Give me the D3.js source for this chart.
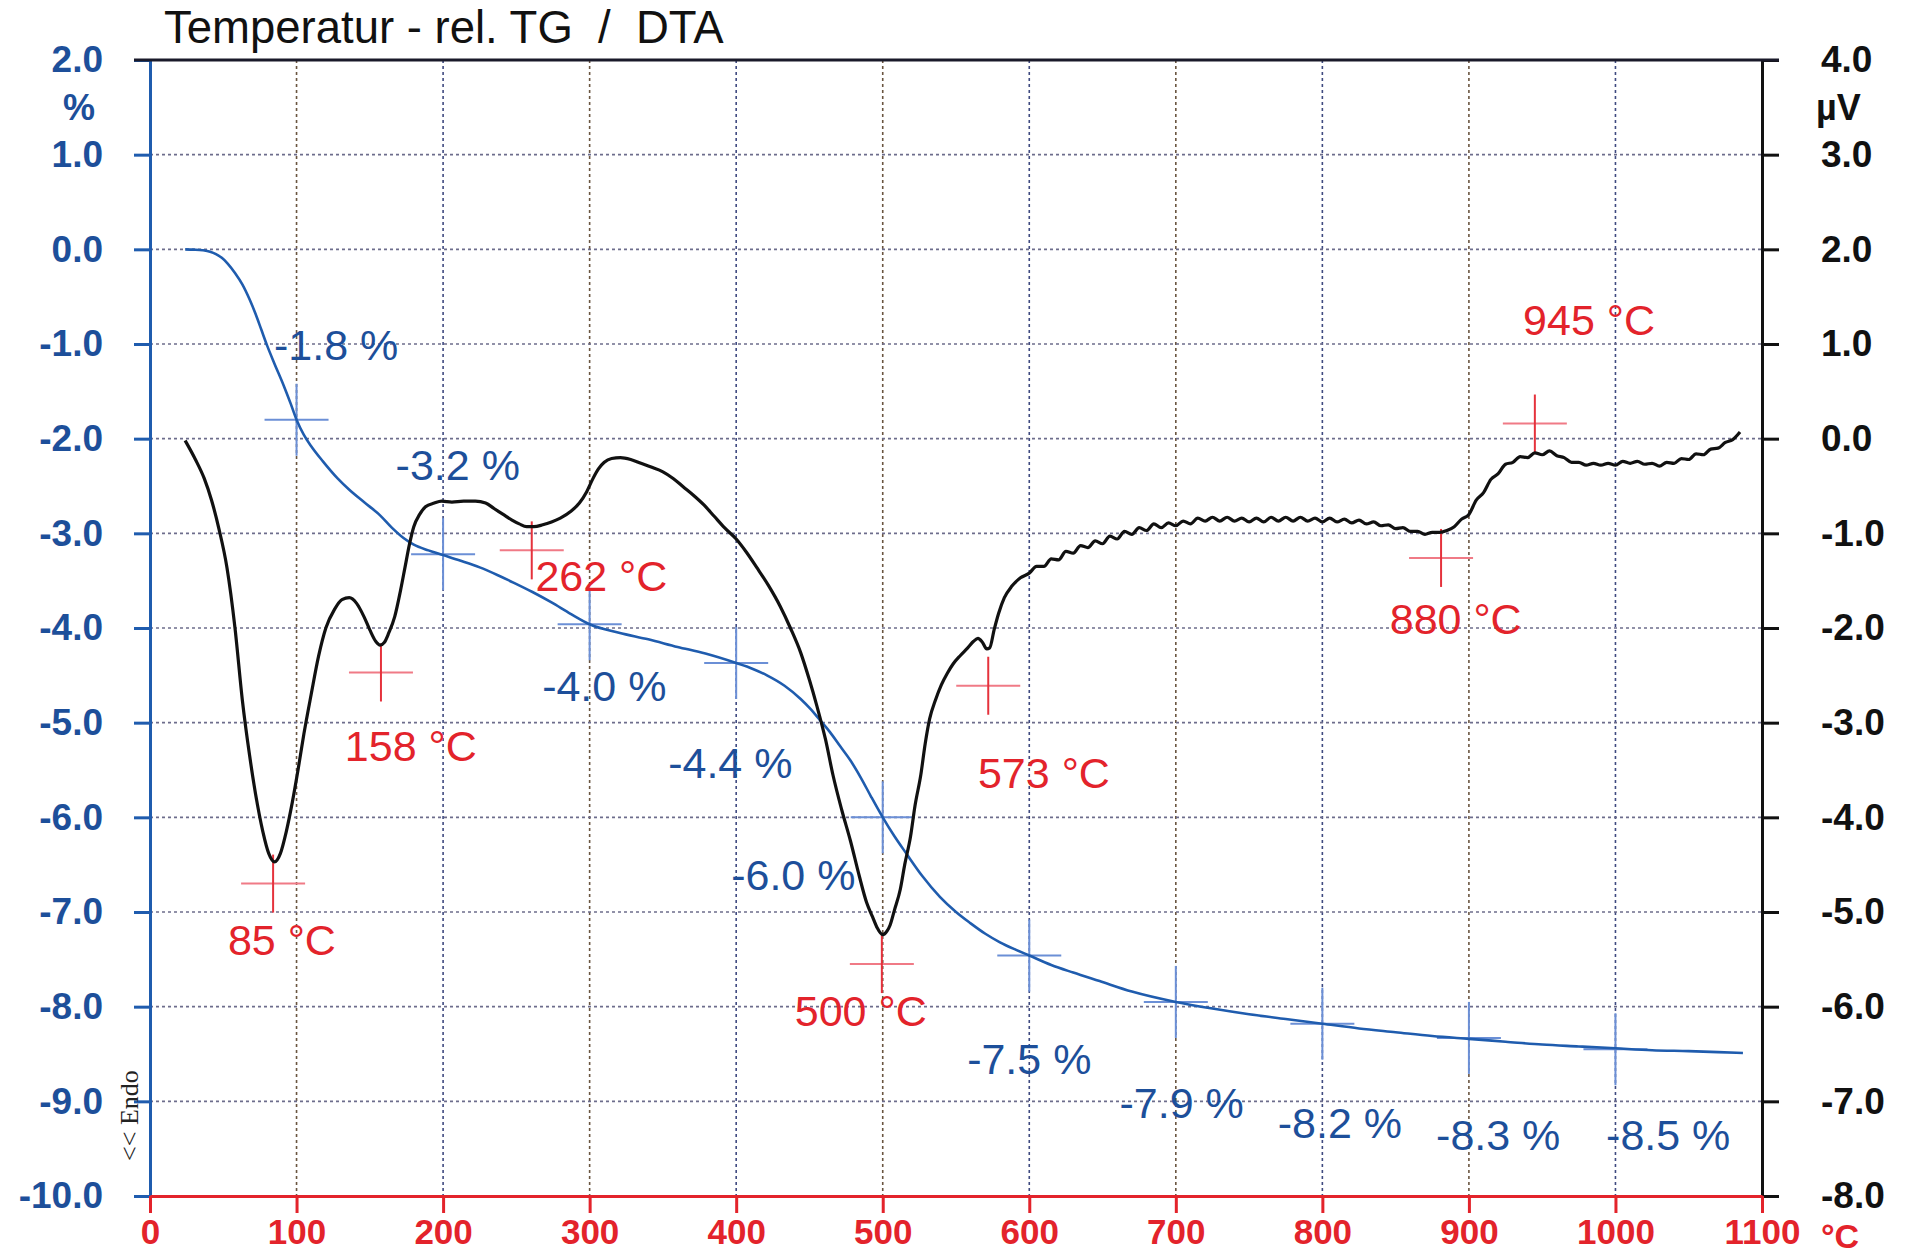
<!DOCTYPE html>
<html><head><meta charset="utf-8">
<script src="https://cdn.jsdelivr.net/npm/d3@7"></script>
<style>
html,body{margin:0;padding:0;background:#fff;}
svg{display:block;font-family:"Liberation Sans",Arial,sans-serif;}
</style></head><body>
<svg id="chart" width="1907" height="1254"></svg>
<script>
// ---------- DATA ----------
const tempTicks  = [0,100,200,300,400,500,600,700,800,900,1000,1100];
const massTicks  = [-10,-9,-8,-7,-6,-5,-4,-3,-2,-1,0,1,2];      // %  (left)
const dtaTicks   = [-8,-7,-6,-5,-4,-3,-2,-1,0,1,2,3,4];          // µV (right)

// TG curve (rel. mass change, %)
const tgTemp = [24,30,36,41,45,49,53,58,63,68,72,76,80,85,91,96,100,105,110,118,128,136,146,157,165,173,180,190,200,212,225,237,248,261,274,287,300,320,340,360,379,400,411,421,433,444,451,457,464,471,478,485,492,500,508,516,527,539,550,560,570,580,591,600,615,630,648,670,700,725,750,775,800,825,850,875,900,925,950,975,1000,1025,1050,1070,1087];
const tgMass = [0.0,-0.003,-0.01,-0.025,-0.05,-0.09,-0.15,-0.25,-0.37,-0.53,-0.68,-0.85,-1.02,-1.21,-1.43,-1.63,-1.80,-1.96,-2.08,-2.24,-2.42,-2.54,-2.67,-2.81,-2.94,-3.05,-3.12,-3.18,-3.23,-3.29,-3.36,-3.44,-3.52,-3.62,-3.73,-3.85,-3.96,-4.05,-4.12,-4.20,-4.27,-4.37,-4.43,-4.50,-4.61,-4.75,-4.86,-4.97,-5.10,-5.25,-5.40,-5.58,-5.78,-6.00,-6.20,-6.38,-6.62,-6.84,-7.00,-7.12,-7.23,-7.32,-7.40,-7.46,-7.56,-7.64,-7.73,-7.84,-7.95,-8.02,-8.08,-8.13,-8.18,-8.23,-8.27,-8.31,-8.34,-8.37,-8.40,-8.42,-8.44,-8.46,-8.47,-8.48,-8.49];

// DTA curve (µV)
const dtaTemp = [24,31,37,42,47,52.5,58,63,68,72,77,81,85,89,93,97,101,105,110,115,120,126,131,136,141,146,150,154,157,160,163,167,171,174,177,180,184,188,194,199,206,214,222,229,235,241,247,252,257,262,268,274,280,287,293,298,302,306,310,315,321,328,335,342,350,357,364,371,378,385,392,400,407,414,422,430,437,444,450,455,461,466,472,478,484,489,493,496,500,503,505,508,512,515,519,522,526,529,532,536,540,544,548,553,558,562,565,568,571,573,576,579,583,588,594,
600,605,610,615,620,625,630,635,640,645,650,655,660,665,670,675,680,685,690,695,700,705,710,715,720,725,730,735,740,745,750,755,760,765,770,775,780,785,790,795,800,805,810,815,820,825,830,835,840,845,850,855,860,865,870,875,880,885,890,895,900,905,910,915,920,925,930,935,940,945,950,955,960,965,970,975,980,985,990,995,1000,1005,1010,1015,1020,1025,1030,1035,1040,1045,1050,1055,1060,1065,1070,1075,1080,1085];
const dtaSignal = [-0.02,-0.22,-0.42,-0.65,-0.95,-1.36,-2.00,-2.76,-3.35,-3.75,-4.15,-4.38,-4.47,-4.38,-4.15,-3.85,-3.50,-3.12,-2.70,-2.30,-2.00,-1.80,-1.70,-1.68,-1.74,-1.88,-2.02,-2.14,-2.18,-2.15,-2.05,-1.88,-1.60,-1.36,-1.12,-0.93,-0.80,-0.72,-0.68,-0.66,-0.67,-0.66,-0.66,-0.68,-0.74,-0.80,-0.86,-0.90,-0.93,-0.93,-0.91,-0.88,-0.84,-0.77,-0.68,-0.56,-0.43,-0.32,-0.25,-0.21,-0.20,-0.22,-0.26,-0.30,-0.35,-0.42,-0.51,-0.60,-0.70,-0.82,-0.94,-1.06,-1.20,-1.36,-1.55,-1.77,-2.00,-2.26,-2.55,-2.82,-3.18,-3.55,-3.92,-4.25,-4.62,-4.90,-5.05,-5.16,-5.24,-5.20,-5.14,-4.98,-4.76,-4.50,-4.20,-3.88,-3.55,-3.22,-2.96,-2.76,-2.60,-2.48,-2.38,-2.29,-2.21,-2.14,-2.11,-2.15,-2.22,-2.21,-2.02,-1.85,-1.68,-1.56,-1.47,
-1.42,-1.35,-1.35,-1.27,-1.28,-1.19,-1.21,-1.13,-1.15,-1.08,-1.11,-1.03,-1.06,-0.98,-1.01,-0.94,-0.97,-0.90,-0.94,-0.89,-0.92,-0.87,-0.90,-0.84,-0.87,-0.83,-0.87,-0.83,-0.87,-0.84,-0.88,-0.84,-0.88,-0.83,-0.87,-0.83,-0.87,-0.83,-0.87,-0.84,-0.88,-0.84,-0.88,-0.85,-0.89,-0.86,-0.90,-0.88,-0.92,-0.91,-0.95,-0.94,-0.98,-0.98,-1.01,-0.99,-0.99,-0.97,-0.93,-0.85,-0.80,-0.65,-0.57,-0.43,-0.37,-0.27,-0.25,-0.19,-0.20,-0.15,-0.17,-0.13,-0.18,-0.20,-0.25,-0.25,-0.28,-0.26,-0.28,-0.26,-0.28,-0.24,-0.26,-0.24,-0.27,-0.26,-0.29,-0.25,-0.26,-0.21,-0.22,-0.16,-0.17,-0.11,-0.10,-0.04,-0.01,0.07];

// TG step marks and their value labels
const stepTemp   = [100,200,300,400,500,600,700,800,900,1000];
const stepMass   = [-1.80,-3.22,-3.96,-4.37,-6.00,-7.46,-7.95,-8.18,-8.33,-8.45];
const stepLabels = ["-1.8 %","-3.2 %","-4.0 %","-4.4 %","-6.0 %","-7.5 %","-7.9 %","-8.2 %","-8.3 %","-8.5 %"];
const stepLabelTemp = [127,210,310,396,439,600,704,812,920,1036];
const stepLabelMass = [-1.01,-2.27,-4.61,-5.42,-6.60,-8.55,-9.01,-9.22,-9.35,-9.35];

// DTA peak marks and their labels
const peakTemp   = [84,157.6,260.5,499.4,572,881,945];
const peakSignal = [-4.70,-2.47,-1.18,-5.55,-2.61,-1.26,0.16];
const peakLabels = ["85 °C","158 °C","262 °C","500 °C","573 °C","880 °C","945 °C"];
const peakLabelTemp   = [90,178,308,485,610,891,982];
const peakLabelSignal = [-5.29,-3.24,-1.45,-6.04,-3.53,-1.90,1.26];

// ---------- CHART ----------
const L = 150, R = 1762, T = 60, B = 1196;
const svg = d3.select("#chart");
const x  = d3.scaleLinear().domain([0,1100]).range([L,R]);
const yL = d3.scaleLinear().domain([-10,2]).range([B,T]);
const yR = d3.scaleLinear().domain([-8,4]).range([B,T]);

const BLUE = "#1d4f9a", RED = "#e3232b", LINEBLUE = "#1f5cae";
const FONT = "'Liberation Sans',Arial,sans-serif";

// grid
const g = svg.append("g");
g.selectAll("line.vg").data(tempTicks.filter(t => t > 0 && t < 1100)).enter().append("line")
  .attr("x1", d => x(d)).attr("x2", d => x(d)).attr("y1", T).attr("y2", B)
  .attr("stroke", (d,i) => i % 2 ? "#3f4a80" : "#6a5540").attr("stroke-width", 1.6)
  .attr("stroke-dasharray", "3,3");
g.selectAll("line.hg").data(massTicks.filter(t => t > -10 && t < 2)).enter().append("line")
  .attr("x1", L).attr("x2", R).attr("y1", d => yL(d)).attr("y2", d => yL(d))
  .attr("stroke", "#6d6d8c").attr("stroke-width", 1.6).attr("stroke-dasharray", "3,3");

// axes
const fmt = d => d.toFixed(1);
const axL = svg.append("g").attr("transform", `translate(${L},0)`)
  .call(d3.axisLeft(yL).tickValues(massTicks).tickFormat(fmt).tickSize(16).tickSizeOuter(0).tickPadding(31));
axL.select(".domain").attr("stroke", LINEBLUE).attr("stroke-width", 3);
axL.selectAll(".tick line").attr("stroke", LINEBLUE).attr("stroke-width", 3);
axL.selectAll(".tick text").attr("fill", BLUE).attr("font-size", 37).attr("font-weight", "bold")
  .attr("font-family", FONT);

const axR = svg.append("g").attr("transform", `translate(${R},0)`)
  .call(d3.axisRight(yR).tickValues(dtaTicks).tickFormat(fmt).tickSize(17).tickSizeOuter(0).tickPadding(42));
axR.select(".domain").attr("stroke", "#111").attr("stroke-width", 3);
axR.selectAll(".tick line").attr("stroke", "#111").attr("stroke-width", 3);
axR.selectAll(".tick text").attr("fill", "#111").attr("font-size", 37).attr("font-weight", "bold")
  .attr("font-family", FONT);

// top frame line
svg.append("line").attr("x1", L - 16).attr("x2", R + 17).attr("y1", T).attr("y2", T)
  .attr("stroke", "#1a1a2a").attr("stroke-width", 3);

const axB = svg.append("g").attr("transform", `translate(0,${B})`)
  .call(d3.axisBottom(x).tickValues(tempTicks).tickFormat(d => String(d)).tickSize(17).tickSizeOuter(0).tickPadding(6));
axB.select(".domain").attr("stroke", RED).attr("stroke-width", 3);
axB.selectAll(".tick line").attr("stroke", RED).attr("stroke-width", 3);
axB.selectAll(".tick text").attr("fill", RED).attr("font-size", 35).attr("font-weight", "bold")
  .attr("font-family", FONT);

// unit labels
svg.append("text").attr("x", 79).attr("y", yL(1.5)).attr("dy", "0.36em").attr("text-anchor", "middle")
  .attr("fill", BLUE).attr("font-size", 36).attr("font-weight", "bold").text("%");
svg.append("text").attr("x", 1816).attr("y", yR(3.5)).attr("dy", "0.36em")
  .attr("fill", "#111").attr("font-size", 36).attr("font-weight", "bold").text("µV");
svg.append("text").attr("x", 1821).attr("y", B + 28).attr("dy", "0.71em")
  .attr("fill", RED).attr("font-size", 34).attr("font-weight", "bold").text("°C");

// title
svg.append("text").attr("x", 164).attr("y", 43).attr("font-size", 45.5).attr("fill", "#111")
  .style("white-space", "pre").text("Temperatur - rel. TG  /  DTA");

// Endo label
svg.append("text").attr("transform", `translate(138,${yL(-9.15)}) rotate(-90)`)
  .attr("text-anchor", "middle").attr("font-family", "'Liberation Serif','Times New Roman',serif")
  .attr("font-size", 26).attr("fill", "#222").text("<< Endo");

// TG step crosses
const steps = stepTemp.map((t,i) => ({t, m: stepMass[i], lab: stepLabels[i], lt: stepLabelTemp[i], lm: stepLabelMass[i]}));
const sc = svg.append("g").attr("stroke", "#6b8fd6").attr("stroke-width", 2);
steps.forEach(d => {
  sc.append("line").attr("x1", x(d.t) - 32).attr("x2", x(d.t) + 32).attr("y1", yL(d.m)).attr("y2", yL(d.m));
  sc.append("line").attr("x1", x(d.t)).attr("x2", x(d.t)).attr("y1", yL(d.m) - 36).attr("y2", yL(d.m) + 36);
});

// DTA peak crosses
const peaks = peakTemp.map((t,i) => ({t, s: peakSignal[i], lab: peakLabels[i], lt: peakLabelTemp[i], ls: peakLabelSignal[i]}));
const pc = svg.append("g").attr("stroke-width", 2);
peaks.forEach(d => {
  pc.append("line").attr("stroke", "#f07a86").attr("x1", x(d.t) - 32).attr("x2", x(d.t) + 32).attr("y1", yR(d.s)).attr("y2", yR(d.s));
  pc.append("line").attr("stroke", "#e5323c").attr("x1", x(d.t)).attr("x2", x(d.t)).attr("y1", yR(d.s) - 29).attr("y2", yR(d.s) + 29);
});

// curves
const tgData = tgTemp.map((t,i) => [t, tgMass[i]]);
const dtaData = dtaTemp.map((t,i) => [t, dtaSignal[i]]);
svg.append("path").datum(tgData).attr("fill", "none").attr("stroke", LINEBLUE).attr("stroke-width", 2.6)
  .attr("d", d3.line().x(d => x(d[0])).y(d => yL(d[1])).curve(d3.curveMonotoneX));
svg.append("path").datum(dtaData).attr("fill", "none").attr("stroke", "#111").attr("stroke-width", 3.2)
  .attr("stroke-linejoin", "round")
  .attr("d", d3.line().x(d => x(d[0])).y(d => yR(d[1])).curve(d3.curveMonotoneX));

// labels
svg.append("g").selectAll("text").data(steps).enter().append("text")
  .attr("x", d => x(d.lt)).attr("y", d => yL(d.lm)).attr("dy", "0.36em").attr("text-anchor", "middle")
  .attr("font-size", 43).attr("fill", BLUE).text(d => d.lab);
svg.append("g").selectAll("text").data(peaks).enter().append("text")
  .attr("x", d => x(d.lt)).attr("y", d => yR(d.ls)).attr("dy", "0.36em").attr("text-anchor", "middle")
  .attr("font-size", 43).attr("fill", RED).text(d => d.lab);
</script>
</body></html>
